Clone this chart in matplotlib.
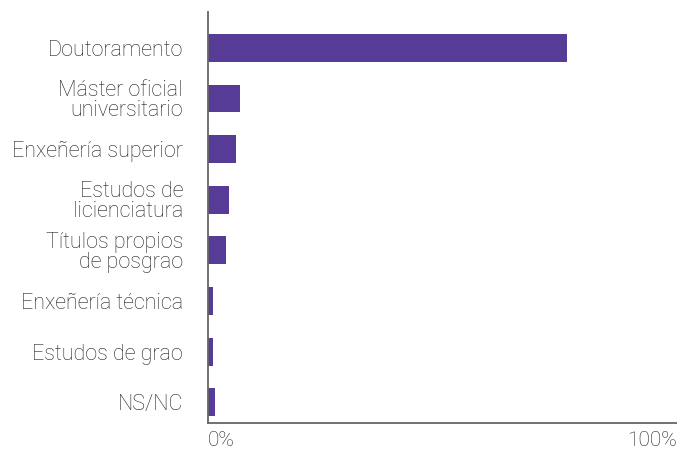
import numpy as np
import matplotlib.pyplot as plt

# datos
categorias = [
    "Doutoramento",
    "Máster oficial\nuniversitario",
    "Enxeñería superior",
    "Estudos de\nlicienciatura",
    "Títulos propios\nde posgrao",
    "Enxeñería técnica",
    "Estudos de grao",
    "NS/NC",
]
porcentaxes = [76.5, 6.8, 5.9, 4.4, 3.8, 1.0, 1.0, 1.4]
eixo_x_ticks = [0, 100]
eixo_x_labels = ["0%", "100%"]

plt.rcParams['font.family'] = ['Roboto', 'DejaVu Sans']

fig = plt.figure(figsize=(6.77, 4.53), dpi=100)
ax = fig.add_axes([208 / 677, 1 - 423 / 453, 1 - 208 / 677, (423 - 12) / 453])

y = np.arange(len(categorias))
ax.barh(y, porcentaxes, height=0.55, color="#563C96")

ax.set_xlim(0, 100)
ax.set_ylim(len(categorias) - 1 + 0.41, -0.71)

ax.set_yticks(y)
ax.set_yticklabels(categorias, fontsize=15.5, fontweight='light',
                   color="#222222", linespacing=0.95, ha='right')
ax.tick_params(axis='y', length=0, pad=18)

ax.set_xticks(eixo_x_ticks)
ax.set_xticklabels(eixo_x_labels, fontsize=15, fontweight='light',
                   color="#222222")
ax.tick_params(axis='x', length=0, pad=5.5)
xl = ax.get_xticklabels()
xl[0].set_ha('left')
xl[1].set_ha('right')

for lado in ['top', 'right']:
    ax.spines[lado].set_visible(False)
for lado in ['left', 'bottom']:
    ax.spines[lado].set_color("#666666")
    ax.spines[lado].set_linewidth(1.3)

fig.savefig("out.png", dpi=100)
